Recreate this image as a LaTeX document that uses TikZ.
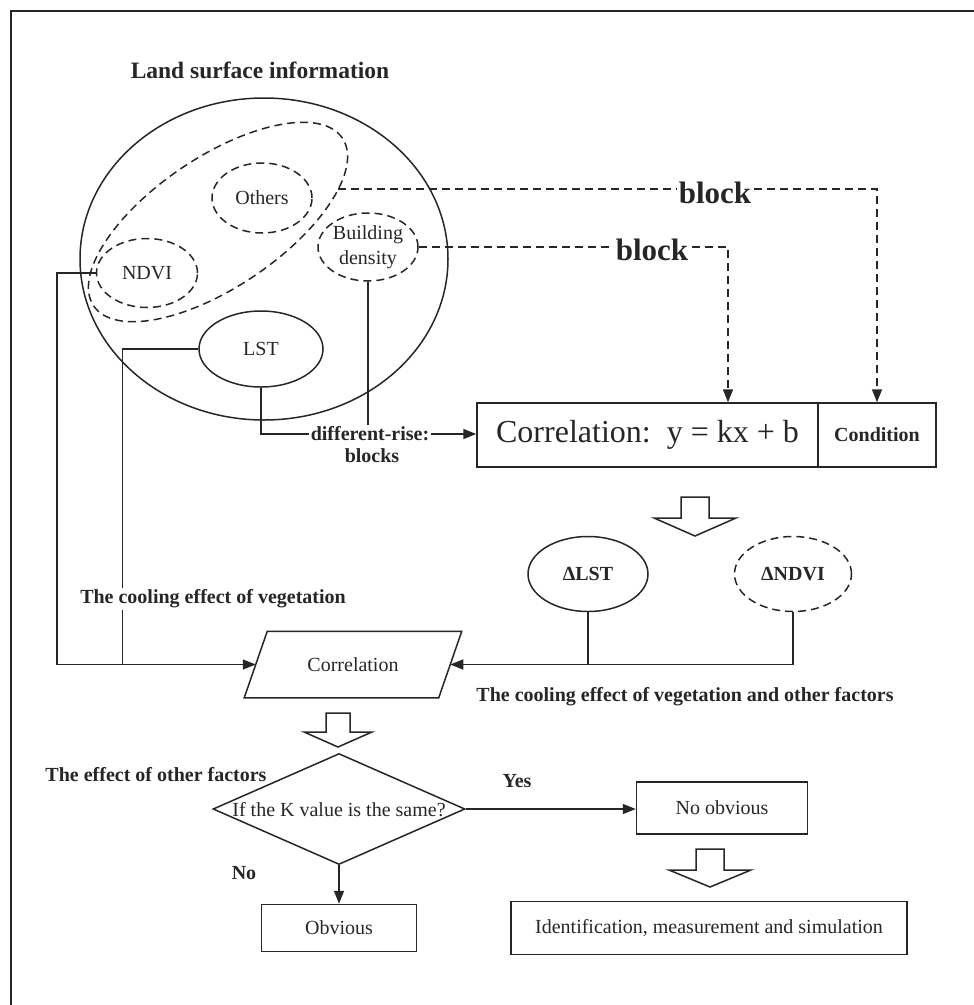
\documentclass[tikz,border=0pt]{standalone}
\usepackage{fontspec}
\setmainfont{Liberation Serif}
\usetikzlibrary{arrows.meta,shapes.geometric,calc}
\definecolor{ink}{rgb}{0.15,0.15,0.15}
\begin{document}
\begin{tikzpicture}[x=1pt,y=-1pt,line width=1.5pt,
  every node/.style={text=ink},
  lbl/.style={font=\fontsize{20}{25}\selectfont},
  blbl/.style={font=\bfseries\fontsize{20}{24}\selectfont},
  ell/.style={ellipse,draw=ink,line width=1.5pt,inner sep=0pt},
  dashd/.style={dash pattern=on 8pt off 5pt},
  box/.style={rectangle,draw=ink,line width=1.5pt,inner sep=0pt},
  arr/.style={-{Triangle[length=13pt,width=10pt]}},
  blockar/.style={draw=ink,line width=1.5pt,fill=white,line join=miter},
  cover/.style={fill=white,inner sep=1.5pt}]
\useasboundingbox (0,0) rectangle (974,1005);
% frame
\draw[draw=ink,line width=2.5pt] (11,1010) -- (11,11) -- (980,11);

% title
\node[font=\bfseries\fontsize{23.5}{27}\selectfont] (title) at (260,70) {Land surface information};

% land surface ellipses
\node[ell,minimum width=368,minimum height=322] (land) at (264,259) {};
\node[ell,dashd,minimum width=300,minimum height=130,rotate=34] (veg) at (218,222) {};
\node[ell,dashd,minimum width=100,minimum height=70,lbl] (others) at (262,198) {Others};
\node[ell,dashd,minimum width=101,minimum height=69,lbl] (ndvi) at (147,273) {NDVI};
\node[ell,dashd,minimum width=100,minimum height=68,lbl,align=center] (bd) at (368,247) {Building\\density};
\node[ell,minimum width=124,minimum height=76,lbl] (lst) at (261,349) {LST};
\coordinate (vegout) at (338,189);

% correlation box
\node[box,minimum width=341,minimum height=64,font=\fontsize{32}{36}\selectfont] (corr) at (647.5,435) {Correlation:\ \ y = kx + b};
\node[box,minimum width=118,minimum height=64,blbl] (cond) at (877,435) {Condition};

% dashed block arrows
\draw[draw=ink,arr,dashd] (vegout) -| (cond.north);
\draw[draw=ink,arr,dashd] (bd.east) -| ([xshift=80.5pt]corr.north);
\node[cover,font=\bfseries\fontsize{31}{34}\selectfont] (blk1) at (715,193) {block};
\node[cover,font=\bfseries\fontsize{31}{34}\selectfont] (blk2) at (652,250) {block};

% different-rise
\node[blbl,inner sep=1pt] (dr1) at (370,434) {different-rise:};
\node[blbl,inner sep=1pt] (dr2) at (372,456) {blocks};
\draw[draw=ink] (bd.south) -- (bd.south |- dr1.north);
\draw[draw=ink] (lst.south) |- (dr1.west);
\draw[draw=ink,arr] (dr1.east) -- (dr1.east -| corr.west);

% block arrow 1
\draw[blockar] (681,497) -- (709,497) -- (709,518) -- (736,518) -- (695,536) -- (654,518) -- (681,518) -- cycle;

% delta nodes
\node[ell,minimum width=120,minimum height=75,blbl] (dlst) at (588,574) {ΔLST};
\node[ell,dashd,minimum width=117,minimum height=75,blbl] (dndvi) at (793,574) {ΔNDVI};

% parallelogram
\node[minimum width=193,minimum height=65,inner sep=0pt,lbl] (par) at (353,664.5) {Correlation};
\draw[draw=ink,line join=miter] ([xshift=11.5pt]par.north west) -- ([xshift=11.5pt]par.north east)
  -- ([xshift=-11.5pt]par.south east) -- ([xshift=-11.5pt]par.south west) -- cycle;

% left connectors
\draw[draw=ink,arr] (ndvi.west) -- ++(-39,0) |- (par.west);
\draw[draw=ink] (lst.west) -- ++(-75.6,0) coordinate (lstc) -- (lstc |- par.west);
\node[blbl,cover] (cool1) at (213,599) {The cooling effect of vegetation};

% right connectors
\draw[draw=ink,arr] (dndvi.south) |- (par.east);
\draw[draw=ink] (dlst.south) -- (dlst.south |- par.east);
\node[blbl] (cool2) at (685,697) {The cooling effect of vegetation and other factors};

% block arrow 2
\draw[blockar] (326,713) -- (350,713) -- (350,732) -- (372,732) -- (338,747) -- (304,732) -- (326,732) -- cycle;

% decision
\node[blbl] (eff) at (156,775) {The effect of other factors};
\node[diamond,draw=ink,line width=1.5pt,minimum width=252,minimum height=111,inner sep=0pt] (dia) at (339,809) {};
\node[lbl] (q) at (339,810) {If the K value is the same?};
\node[blbl] (yes) at (517,781) {Yes};
\node[box,minimum width=171,minimum height=52,lbl] (noob) at (722,808) {No obvious};
\draw[draw=ink,arr] (dia.east) -- (dia.east -| noob.west);
\node[blbl] (no) at (244,873) {No};
\node[box,minimum width=155,minimum height=47,lbl] (obv) at (339,928) {Obvious};
\draw[draw=ink,arr] (dia.south) -- (obv.north);

% block arrow 3
\draw[blockar] (696,849) -- (724,849) -- (724,870) -- (751,870) -- (710,887) -- (669,870) -- (696,870) -- cycle;
\node[box,minimum width=396,minimum height=53,lbl] (ident) at (709,928) {Identification, measurement and simulation};
\end{tikzpicture}
\end{document}
